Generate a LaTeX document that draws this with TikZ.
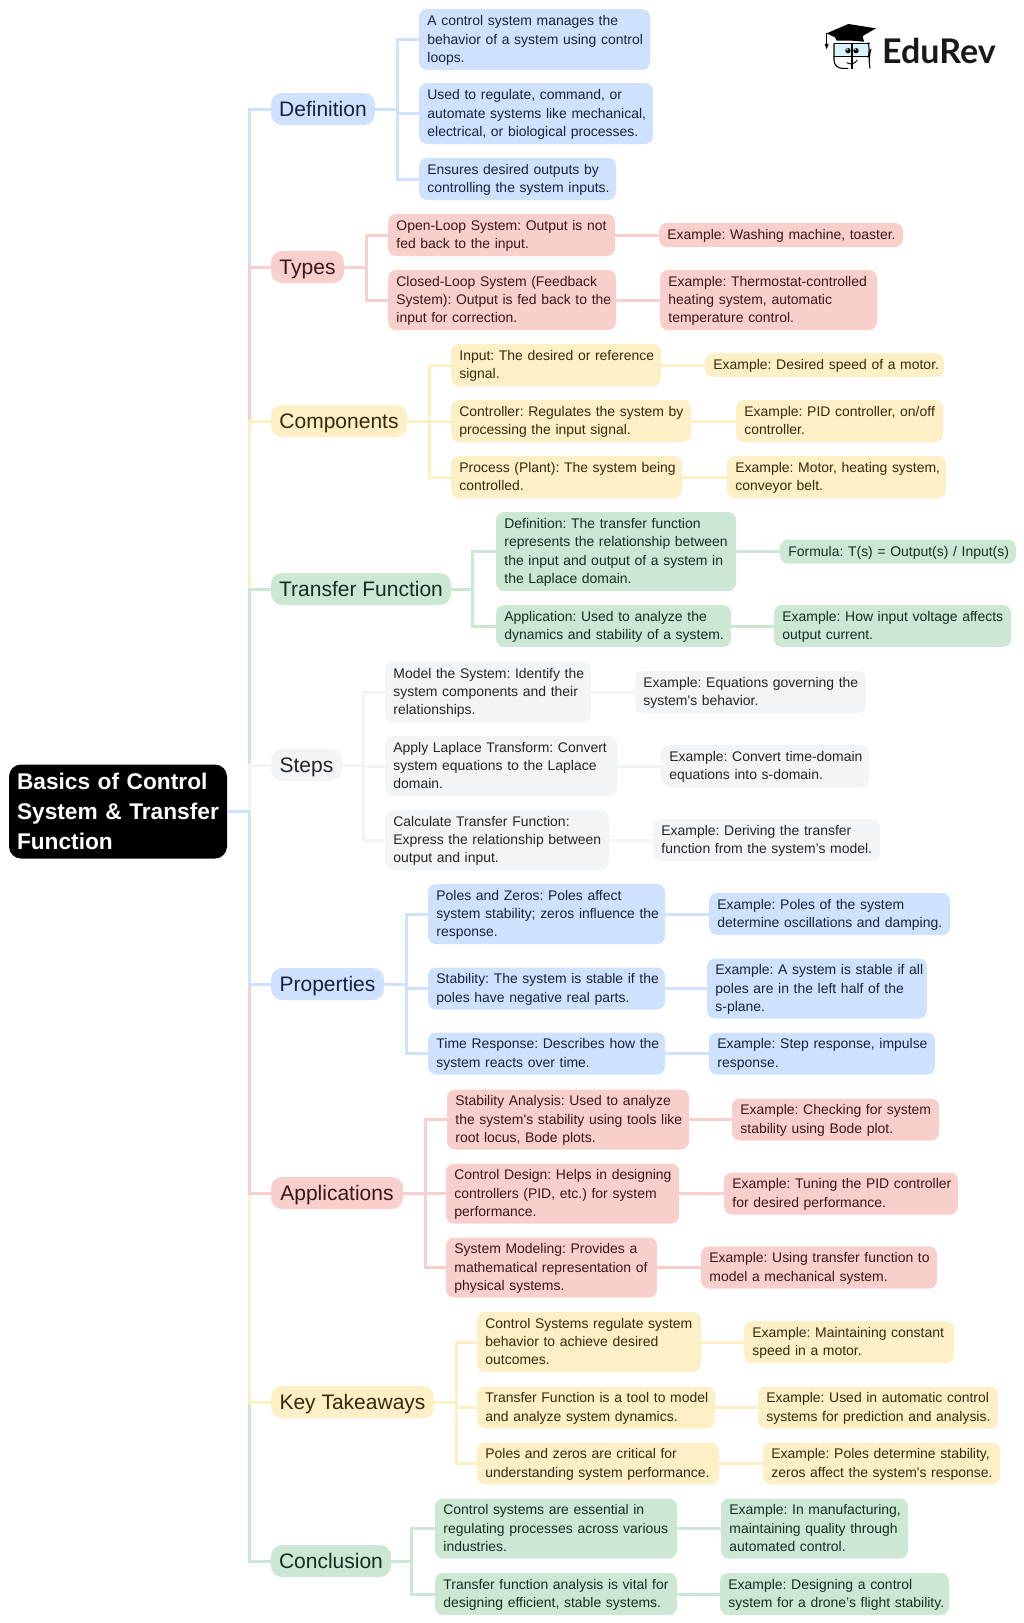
\documentclass[tikz,border=0pt]{standalone}
\usepackage{fontspec}
\setmainfont{Liberation Sans}[Ligatures=TeXOff]
\newfontfamily\logofont{Lato}[Ligatures=TeXOff]
\definecolor{fB}{HTML}{CFE2FD}\definecolor{tB}{HTML}{15233D}
\definecolor{fP}{HTML}{F9CFCC}\definecolor{tP}{HTML}{3A1715}
\definecolor{fY}{HTML}{FDF0C6}\definecolor{tY}{HTML}{352A0C}
\definecolor{fG}{HTML}{CDE7D5}\definecolor{tG}{HTML}{12301E}
\definecolor{fW}{HTML}{F3F4F6}\definecolor{tW}{HTML}{23252A}
\tikzset{
 cardbox/.style={inner xsep=8.4pt,inner ysep=0pt,align=left,rounded corners=8pt,font=\fontsize{13.95}{18.3}\selectfont},
 branchbox/.style={inner sep=0pt,align=center,rounded corners=11pt,text height=16.5pt,text depth=1.5pt,font=\fontsize{21}{24}\selectfont},
 styB/.style={fill=fB,text=tB}, styP/.style={fill=fP,text=tP},
 styY/.style={fill=fY,text=tY}, styG/.style={fill=fG,text=tG}, styW/.style={fill=fW,text=tW},
 wire/.style={line width=3pt,draw=#1},
}
% name x0 x1 ycentre height style text
\newcommand\cardn[7]{\node[cardbox,#6,text width={(#3-#2-16.8)*1pt},minimum height={#5*1pt}] (#1) at ({(#2+#3)/2},#4)
  {\rightskip=-20pt plus 1fil\relax\rule{0pt}{12.1pt}#7\rule[-3pt]{0pt}{3pt}\par};}
\newcommand\brnamed[6]{\node[branchbox,#5,minimum width={(#3-#2)*1pt},minimum height=32pt] (#1) at ({(#2+#3)/2},#4) {#6};}
\newcommand\fork[4]{\draw[wire=#4] (#1.east) -- (#3 |- #1.east) -- (#3 |- #2.west) -- (#2.west);}
\newcommand\lnk[3]{\draw[wire=#3] (#1.east) -- (#2.west |- #1.east);}
\newcommand\trunk[2]{\draw[wire=#2] (root.east) -- (spine |- root.east) -- (spine |- #1.west) -- (#1.west);}
\begin{document}
\frenchspacing
\begin{tikzpicture}[x=1pt,y=-1pt]
\useasboundingbox (0,0) rectangle (1024,1623);
\coordinate (spine) at (249,0);
\coordinate (fD) at (397,0); \coordinate (fT) at (366,0); \coordinate (fC) at (429,0);
\coordinate (fF) at (472,0); \coordinate (fS) at (363,0); \coordinate (fR) at (406,0);
\coordinate (fA) at (425,0); \coordinate (fK) at (456,0); \coordinate (fE) at (411,0);
% root
\node[fill=black,text=white,rounded corners=12pt,inner xsep=8pt,inner ysep=0pt,align=left,text width=202pt,minimum height=94pt,
  font=\fontsize{22.7}{30}\selectfont\bfseries] (root) at (118,811.5) {\rightskip=-20pt plus 1fil\relax Basics of Control\\System \& Transfer\\Function\par};
% branches
\brnamed{def}{271}{375}{109}{styB}{Definition}
\brnamed{typ}{271}{344}{267}{styP}{Types}
\brnamed{com}{271}{407}{421}{styY}{Components}
\brnamed{trf}{271}{451}{589}{styG}{Transfer Function}
\brnamed{stp}{271}{342}{765}{styW}{Steps}
\brnamed{pro}{271}{384}{984}{styB}{Properties}
\brnamed{app}{271}{403}{1193}{styP}{Applications}
\brnamed{key}{271}{434}{1402}{styY}{Key Takeaways}
\brnamed{con}{271}{391}{1561}{styG}{Conclusion}
% Definition
\cardn{d1}{419}{650}{39.5}{61}{styB}{A control system manages the\\behavior of a system using control\\loops.}
\cardn{d2}{419}{653}{113.5}{61}{styB}{Used to regulate, command, or\\automate systems like mechanical,\\electrical, or biological processes.}
\cardn{d3}{419}{616}{179}{42}{styB}{Ensures desired outputs by\\controlling the system inputs.}
% Types
\cardn{t1}{388}{615}{235}{42}{styP}{Open-Loop System: Output is not\\fed back to the input.}
\cardn{t2}{388}{616}{300}{60}{styP}{Closed-Loop System (Feedback\\System): Output is fed back to the\\input for correction.}
\cardn{t1e}{659}{903}{235}{24}{styP}{Example: Washing machine, toaster.}
\cardn{t2e}{660}{877}{300}{60}{styP}{Example: Thermostat-controlled\\heating system, automatic\\temperature control.}
% Components
\cardn{c1}{451}{661}{365}{42}{styY}{Input: The desired or reference\\signal.}
\cardn{c1e}{705}{944}{365}{24}{styY}{Example: Desired speed of a motor.}
\cardn{c2}{451}{691}{421}{42}{styY}{Controller: Regulates the system by\\processing the input signal.}
\cardn{c2e}{736}{943}{421}{42}{styY}{Example: PID controller, on/off\\controller.}
\cardn{c3}{451}{682}{477}{42}{styY}{Process (Plant): The system being\\controlled.}
\cardn{c3e}{727}{946}{477}{42}{styY}{Example: Motor, heating system,\\conveyor belt.}
% Transfer function
\cardn{f1}{496}{736}{551.5}{79}{styG}{Definition: The transfer function\\represents the relationship between\\the input and output of a system in\\the Laplace domain.}
\cardn{f1e}{780}{1016}{551.5}{24}{styG}{Formula: T(s) = Output(s) / Input(s)}
\cardn{f2}{496}{731}{626}{42}{styG}{Application: Used to analyze the\\dynamics and stability of a system.}
\cardn{f2e}{774}{1011}{626}{42}{styG}{Example: How input voltage affects\\output current.}
% Steps
\cardn{s1}{385}{591}{692}{60}{styW}{Model the System: Identify the\\system components and their\\relationships.}
\cardn{s1e}{635}{866}{692}{42}{styW}{Example: Equations governing the\\system's behavior.}
\cardn{s2}{385}{617}{766}{60}{styW}{Apply Laplace Transform: Convert\\system equations to the Laplace\\domain.}
\cardn{s2e}{661}{869}{766}{42}{styW}{Example: Convert time-domain\\equations into s-domain.}
\cardn{s3}{385}{609}{840}{60}{styW}{Calculate Transfer Function:\\Express the relationship between\\output and input.}
\cardn{s3e}{653}{880}{840}{42}{styW}{Example: Deriving the transfer\\function from the system’s model.}
% Properties
\cardn{p1}{428}{665}{914}{60}{styB}{Poles and Zeros: Poles affect\\system stability; zeros influence the\\response.}
\cardn{p1e}{709}{950}{914}{42}{styB}{Example: Poles of the system\\determine oscillations and damping.}
\cardn{p2}{428}{665}{988.5}{42}{styB}{Stability: The system is stable if the\\poles have negative real parts.}
\cardn{p2e}{707}{927}{988.5}{60}{styB}{Example: A system is stable if all\\poles are in the left half of the\\s-plane.}
\cardn{p3}{428}{665}{1053.5}{42}{styB}{Time Response: Describes how the\\system reacts over time.}
\cardn{p3e}{709}{935}{1053.5}{42}{styB}{Example: Step response, impulse\\response.}
% Applications
\cardn{a1}{447}{689}{1119.5}{60}{styP}{Stability Analysis: Used to analyze\\the system's stability using tools like\\root locus, Bode plots.}
\cardn{a1e}{732}{939}{1119.5}{42}{styP}{Example: Checking for system\\stability using Bode plot.}
\cardn{a2}{446}{679}{1193.5}{60}{styP}{Control Design: Helps in designing\\controllers (PID, etc.) for system\\performance.}
\cardn{a2e}{724}{958}{1193.5}{42}{styP}{Example: Tuning the PID controller\\for desired performance.}
\cardn{a3}{446}{657}{1267.5}{60}{styP}{System Modeling: Provides a\\mathematical representation of\\physical systems.}
\cardn{a3e}{701}{937}{1267.5}{42}{styP}{Example: Using transfer function to\\model a mechanical system.}
% Key takeaways
\cardn{k1}{477}{701}{1342}{60}{styY}{Control Systems regulate system\\behavior to achieve desired\\outcomes.}
\cardn{k1e}{744}{954}{1342}{42}{styY}{Example: Maintaining constant\\speed in a motor.}
\cardn{k2}{477}{715}{1407.5}{42}{styY}{Transfer Function is a tool to model\\and analyze system dynamics.}
\cardn{k2e}{758}{998}{1407.5}{42}{styY}{Example: Used in automatic control\\systems for prediction and analysis.}
\cardn{k3}{477}{719}{1463.5}{42}{styY}{Poles and zeros are critical for\\understanding system performance.}
\cardn{k3e}{763}{1000}{1463.5}{42}{styY}{Example: Poles determine stability,\\zeros affect the system's response.}
% Conclusion
\cardn{e1}{435}{677}{1528.5}{60}{styG}{Control systems are essential in\\regulating processes across various\\industries.}
\cardn{e1e}{721}{908}{1528.5}{60}{styG}{Example: In manufacturing,\\maintaining quality through\\automated control.}
\cardn{e2}{435}{677}{1594}{42}{styG}{Transfer function analysis is vital for\\designing efficient, stable systems.}
\cardn{e2e}{720}{949}{1594}{42}{styG}{Example: Designing a control\\system for a drone’s flight stability.}
% trunk
\trunk{def}{fB}\trunk{typ}{fP}\trunk{com}{fY}\trunk{trf}{fG}\trunk{stp}{fW}
\trunk{con}{fG}\trunk{key}{fY}\trunk{app}{fP}\trunk{pro}{fB}
% forks
\fork{def}{d1}{fD}{fB}\fork{def}{d2}{fD}{fB}\fork{def}{d3}{fD}{fB}
\fork{typ}{t1}{fT}{fP}\fork{typ}{t2}{fT}{fP}\lnk{t1}{t1e}{fP}\lnk{t2}{t2e}{fP}
\fork{com}{c1}{fC}{fY}\fork{com}{c2}{fC}{fY}\fork{com}{c3}{fC}{fY}\lnk{c1}{c1e}{fY}\lnk{c2}{c2e}{fY}\lnk{c3}{c3e}{fY}
\fork{trf}{f1}{fF}{fG}\fork{trf}{f2}{fF}{fG}\lnk{f1}{f1e}{fG}\lnk{f2}{f2e}{fG}
\fork{stp}{s1}{fS}{fW}\fork{stp}{s2}{fS}{fW}\fork{stp}{s3}{fS}{fW}\lnk{s1}{s1e}{fW}\lnk{s2}{s2e}{fW}\lnk{s3}{s3e}{fW}
\fork{pro}{p1}{fR}{fB}\fork{pro}{p2}{fR}{fB}\fork{pro}{p3}{fR}{fB}\lnk{p1}{p1e}{fB}\lnk{p2}{p2e}{fB}\lnk{p3}{p3e}{fB}
\fork{app}{a1}{fA}{fP}\fork{app}{a2}{fA}{fP}\fork{app}{a3}{fA}{fP}\lnk{a1}{a1e}{fP}\lnk{a2}{a2e}{fP}\lnk{a3}{a3e}{fP}
\fork{key}{k1}{fK}{fY}\fork{key}{k2}{fK}{fY}\fork{key}{k3}{fK}{fY}\lnk{k1}{k1e}{fY}\lnk{k2}{k2e}{fY}\lnk{k3}{k3e}{fY}
\fork{con}{e1}{fE}{fG}\fork{con}{e2}{fE}{fG}\lnk{e1}{e1e}{fG}\lnk{e2}{e2e}{fG}
% logo
\node[anchor=west,inner sep=0pt,font=\logofont\fontsize{34}{34}\selectfont\bfseries,text=black!90] (logotext) at (882,51) {EduRev};
\begin{scope}[shift={(780,0)},x=.3333pt,y=-.3333pt]
\fill[fill=cyan!15,rounded corners=3pt] (162,132) rectangle (270,170);
\draw[line width=1.1pt,rounded corners=8pt] (162,130) -- (162,205) -- (205,205);
\draw[line width=1.1pt,rounded corners=8pt] (265,130) -- (272,150) -- (265,170) -- (270,205);
\draw[line width=1.1pt] (162,130) -- (270,130) (162,170) -- (270,170) (216,130) -- (216,208);
\draw[line width=.9pt] (200,188) .. controls (215,196) and (225,190) .. (232,180);
\fill (140,100) -- (205,72) -- (288,85) -- (248,108) -- (252,125) -- (215,122) -- (170,122) -- (165,112) -- cycle;
\draw[line width=1pt] (140,100) -- (140,135);
\fill (134,132) -- (146,132) -- (140,148) -- cycle;
\fill (204,152) circle[radius=8]; \fill (228,152) circle[radius=8];
\fill[white] (202,148) circle[radius=2.5]; \fill[white] (226,148) circle[radius=2.5];
\end{scope}
\end{tikzpicture}
\end{document}
